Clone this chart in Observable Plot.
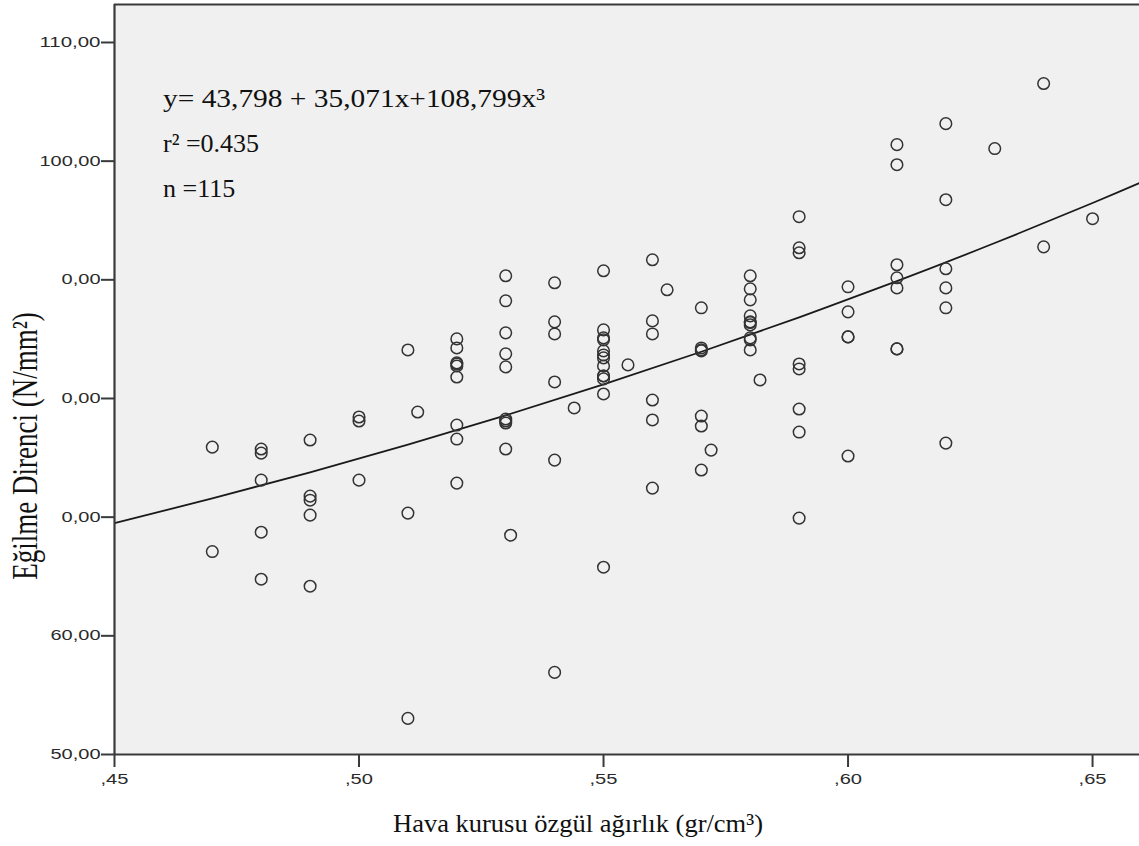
<!DOCTYPE html>
<html>
<head>
<meta charset="utf-8">
<script src="https://cdn.jsdelivr.net/npm/d3@7"></script>
<script src="https://cdn.jsdelivr.net/npm/@observablehq/plot@0.6"></script>
<style>
  html, body { margin: 0; padding: 0; background: white; }
</style>
</head>
<body>
<script>
// Air-dry density (gr/cm3) for each specimen
const density = [
  0.47, 0.47,
  0.48, 0.48, 0.48, 0.48, 0.48,
  0.49, 0.49, 0.49, 0.49, 0.49,
  0.50, 0.50, 0.50,
  0.51, 0.51, 0.51, 0.512,
  0.52, 0.52, 0.52, 0.52, 0.52, 0.52, 0.52, 0.52, 0.52,
  0.53, 0.53, 0.53, 0.53, 0.53, 0.53, 0.53, 0.53, 0.53, 0.531,
  0.54, 0.54, 0.54, 0.54, 0.54, 0.54, 0.544,
  0.55, 0.55, 0.55, 0.55, 0.55, 0.55, 0.55, 0.55, 0.55, 0.55, 0.55, 0.55, 0.55, 0.555,
  0.56, 0.56, 0.56, 0.56, 0.56, 0.56, 0.563,
  0.57, 0.57, 0.57, 0.57, 0.57, 0.57, 0.57, 0.572,
  0.58, 0.58, 0.58, 0.58, 0.58, 0.58, 0.58, 0.58, 0.58, 0.58, 0.582,
  0.59, 0.59, 0.59, 0.59, 0.59, 0.59, 0.59, 0.59,
  0.60, 0.60, 0.60, 0.60, 0.60,
  0.61, 0.61, 0.61, 0.61, 0.61, 0.61, 0.61,
  0.62, 0.62, 0.62, 0.62, 0.62, 0.62,
  0.63,
  0.64, 0.64,
  0.65
];
// Bending strength (N/mm2) for each specimen
const strength = [
  75.9, 67.1,
  75.74, 75.40, 73.12, 68.73, 64.77,
  76.50, 71.77, 71.43, 70.17, 64.18,
  78.44, 78.10, 73.12,
  84.09, 70.34, 53.04, 78.86,
  85.02, 84.26, 83.00, 82.74, 82.90, 81.81, 77.76, 76.58, 72.87,
  90.34, 88.23, 85.53, 83.76, 82.66, 78.27, 78.10, 77.93, 75.74, 68.48,
  89.75, 86.46, 85.44, 81.39, 74.81, 56.92, 79.20,
  90.76, 85.78, 85.11, 84.94, 84.01, 83.67, 83.42, 82.74, 81.90, 81.90, 81.65, 80.38, 65.78, 82.83,
  91.69, 86.54, 85.44, 79.87, 78.19, 72.45, 89.16,
  87.64, 84.26, 84.10, 84.01, 78.52, 77.68, 73.97, 75.65,
  90.34, 89.24, 88.31, 86.96, 86.46, 86.40, 86.20, 85.11, 84.94, 84.09, 81.56,
  95.32, 92.70, 92.28, 82.91, 82.49, 79.11, 77.17, 69.92,
  89.41, 87.30, 85.19, 85.19, 75.15,
  101.39, 99.70, 91.27, 90.17, 89.32, 84.18, 84.18,
  103.16, 96.75, 90.93, 89.32, 87.64, 76.24,
  101.06,
  106.54, 92.78,
  95.15
];
// Fitted cubic curve
const fitX = [0.45, 0.47, 0.49, 0.51, 0.53, 0.55, 0.57, 0.59, 0.61, 0.63, 0.65, 0.66];
const fitY = [69.49, 71.58, 73.78, 76.12, 78.58, 81.19, 83.94, 86.84, 89.89, 93.10, 96.47, 98.22];

const xTicks = [0.45, 0.50, 0.55, 0.60, 0.65];
const yTicks = [50, 60, 70, 80, 90, 100, 110];
const xDomain = [0.45, 0.6596];
const yDomain = [50, 113.2];

const eqText = "y= 43,798 + 35,071x+108,799x³";
const r2Text = "r² =0.435";
const nText = "n =115";
const xTitle = "Hava kurusu özgül ağırlık (gr/cm³)";
const yTitle = "Eğilme Direnci (N/mm²)";

const points = density.map((d, i) => ({x: d, y: strength[i]}));
const fit = fitX.map((d, i) => ({x: d, y: fitY[i]}));

const axisColor = "#3a3a3a";

const chart = Plot.plot({
  width: 1139,
  height: 846,
  marginLeft: 114,
  marginRight: 0,
  marginTop: 4,
  marginBottom: 92,
  x: {domain: xDomain},
  y: {domain: yDomain},
  style: {fontFamily: "'Liberation Sans', Arial, sans-serif", fontSize: "14px", color: "#333", background: "white", overflow: "visible"},
  marks: [
    Plot.frame({fill: "#f0f0f0", stroke: null}),
    Plot.line(fit, {x: "x", y: "y", curve: "natural", stroke: "#1a1a1a", strokeWidth: 1.8, clip: true}),
    Plot.dot(points, {x: "x", y: "y", r: 5.8, stroke: "#333", strokeWidth: 1.5, fill: "none"}),
    Plot.axisY({ticks: yTicks, tickSize: 13, tickPadding: 1, fontSize: 14.5, tickFormat: d => d.toFixed(2).replace(".", ","), label: null, stroke: axisColor, strokeWidth: 2, fill: "#2a2a2a"}),
    Plot.axisX({ticks: xTicks, tickSize: 13, tickPadding: 6, fontSize: 14.5, tickFormat: d => d.toFixed(2).replace("0.", ","), label: null, stroke: axisColor, strokeWidth: 2, fill: "#2a2a2a"}),
    Plot.ruleX([xDomain[0]], {stroke: axisColor, strokeWidth: 2.2}),
    Plot.ruleY([yDomain[0]], {stroke: axisColor, strokeWidth: 2.2}),
    Plot.ruleY([yDomain[1]], {stroke: axisColor, strokeWidth: 2.2})
  ]
});

document.body.append(chart);

// stretch sans tick labels horizontally like the reference (digit 11px, comma 6px)
d3.select(chart).selectAll("g[aria-label$='tick label'] text").each(function() {
  const t = this.textContent;
  const commas = (t.match(/,/g) || []).length;
  const len = (t.length - commas) * 11 + commas * 6;
  this.setAttribute("textLength", len);
  this.setAttribute("lengthAdjust", "spacingAndGlyphs");
});

const svg = d3.select(chart);
const serif = "'Liberation Serif', 'Times New Roman', serif";

// y-axis title with its white box
svg.append("rect").attr("x", 0).attr("y", 266).attr("width", 62).attr("height", 344).attr("fill", "white");
svg.append("text")
  .attr("transform", "translate(37,446) scale(1.35,1) rotate(-90)")
  .attr("text-anchor", "middle")
  .attr("font-family", serif).attr("font-size", 27).attr("fill", "#111")
  .text(yTitle);

// x-axis title
svg.append("text")
  .attr("x", 393).attr("y", 832)
  .attr("text-anchor", "start")
  .attr("textLength", 370).attr("lengthAdjust", "spacingAndGlyphs")
  .attr("font-family", serif).attr("font-size", 26).attr("fill", "#111")
  .text(xTitle);

// fit annotation
[[eqText, 107, 382], [r2Text, 152, null], [nText, 197, null]].forEach(([t, y, len]) => {
  const el = svg.append("text")
    .attr("x", 163).attr("y", y)
    .attr("text-anchor", "start")
    .attr("font-family", serif).attr("font-size", 26).attr("fill", "#111")
    .text(t);
  if (len) el.attr("textLength", len).attr("lengthAdjust", "spacingAndGlyphs");
});
</script>
</body>
</html>
